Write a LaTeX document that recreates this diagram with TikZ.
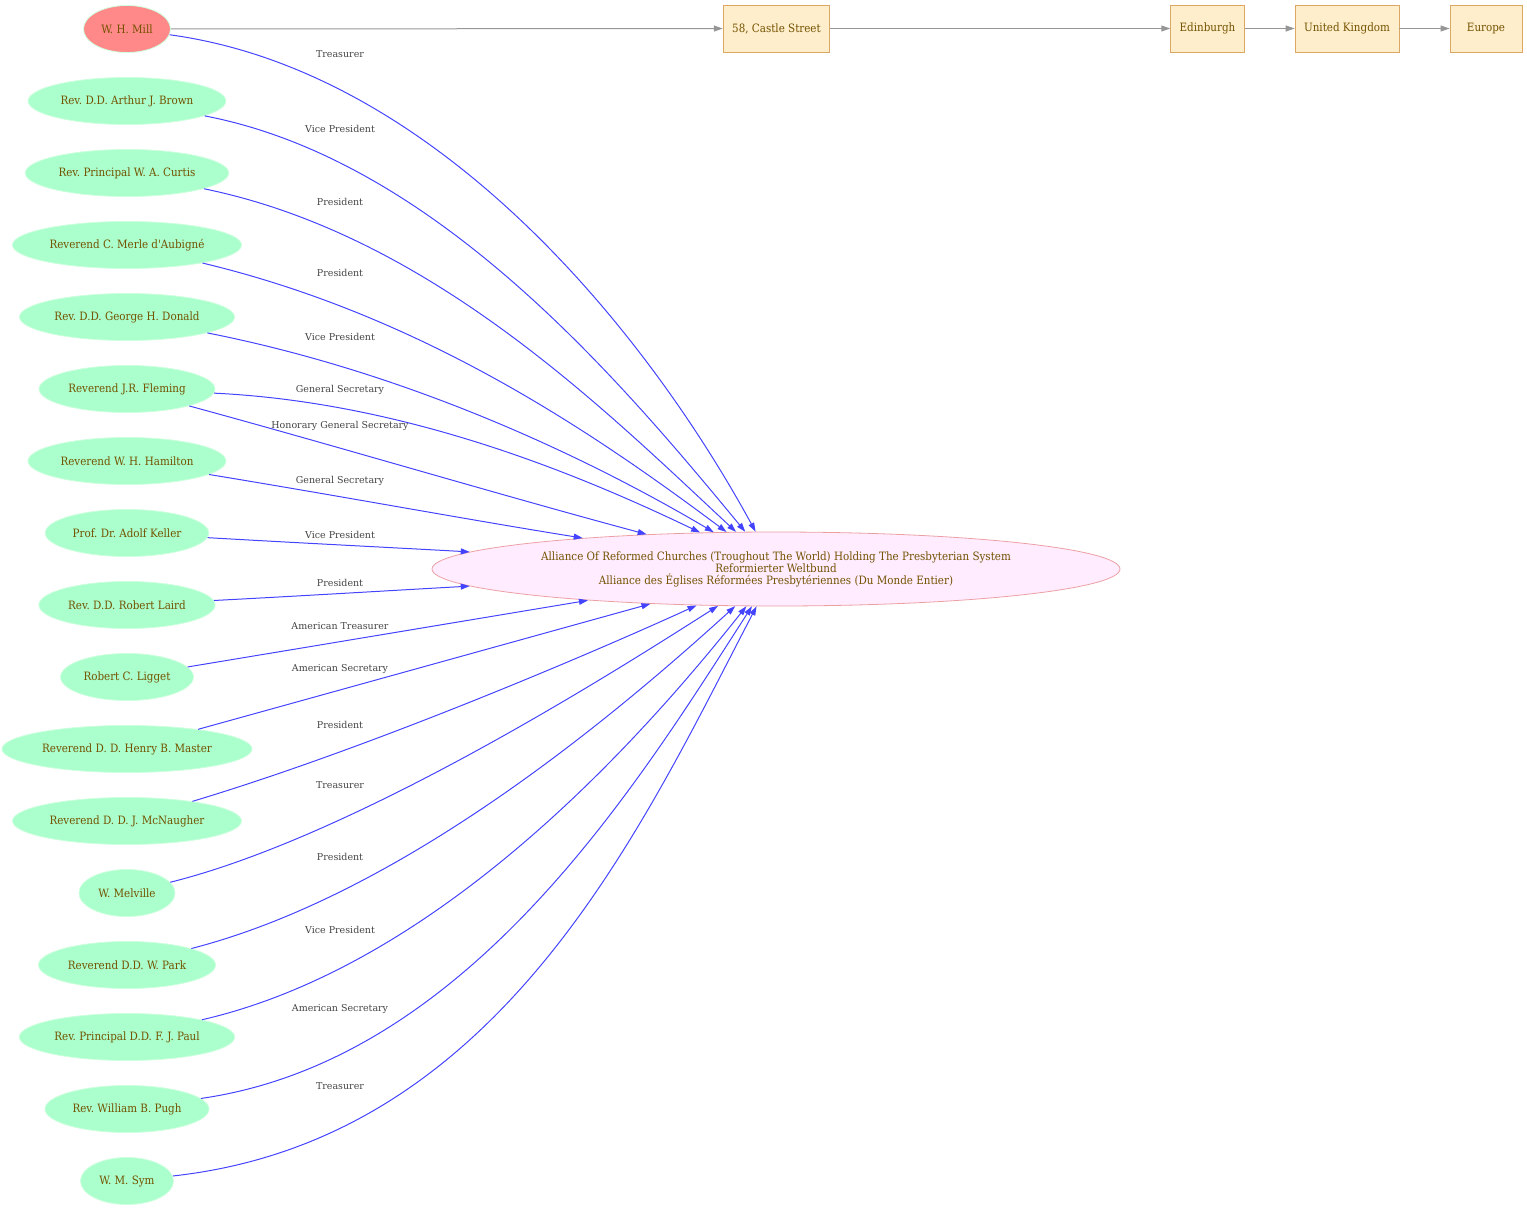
\documentclass[tikz,border=0pt]{standalone}
\usepackage{fontspec}
\setmainfont{DejaVu Serif}
\newfontfamily\condserif{DejaVu Serif Condensed}
\usetikzlibrary{arrows.meta, shapes.geometric}
\definecolor{personfill}{RGB}{170,255,204}
\definecolor{personline}{RGB}{205,255,222}
\definecolor{treasfill}{RGB}{255,136,136}
\definecolor{nametext}{RGB}{115,82,0}
\definecolor{orgfill}{RGB}{255,236,255}
\definecolor{orgline}{RGB}{236,160,164}
\definecolor{placefill}{RGB}{255,238,204}
\definecolor{placeline}{RGB}{218,168,100}
\definecolor{reledge}{RGB}{68,68,255}
\definecolor{locedge}{RGB}{150,150,150}
\definecolor{roletext}{RGB}{68,68,68}
\frenchspacing

\begin{document}
\begin{tikzpicture}[x=1pt, y=-1pt, >={Triangle[length=9pt,width=6pt]},
    person/.style={ellipse, fill=personfill, draw=personline, line width=0.8pt,
        text=nametext, font=\condserif\fontsize{11.5}{12}\selectfont,
        minimum height=47pt, inner xsep=3.5pt},
    treasurer/.style={person, fill=treasfill, minimum width=87pt},
    org/.style={ellipse, fill=orgfill, draw=orgline, line width=0.8pt,
        text=nametext, font=\condserif\fontsize{11.5}{12}\selectfont, align=center,
        minimum width=688pt, minimum height=74pt, inner sep=0pt},
    place/.style={rectangle, fill=placefill, draw=placeline, line width=0.8pt,
        text=nametext, font=\condserif\fontsize{11.5}{12}\selectfont,
        minimum height=47pt, minimum width=72pt, inner xsep=9pt},
    role/.style={text=roletext, font=\fontsize{9.5}{10}\selectfont, inner sep=0pt},
    rel/.style={->, draw=reledge, line width=1pt},
    loc/.style={->, draw=locedge, line width=1pt}]
    \useasboundingbox (0,0) rectangle (1527,1211);

    % People
    \node[treasurer] (mill) at (127,29) {W. H. Mill};
    \node[person] (brown) at (127,101) {Rev. D.D. Arthur J. Brown};
    \node[person] (curtis) at (127,173) {Rev. Principal W. A. Curtis};
    \node[person] (aubigne) at (127,245) {Reverend C. Merle d\textquotesingle Aubigné};
    \node[person] (donald) at (127,317) {Rev. D.D. George H. Donald};
    \node[person] (fleming) at (127,389) {Reverend J.R. Fleming};
    \node[person] (hamilton) at (127,461) {Reverend W. H. Hamilton};
    \node[person] (keller) at (127,533) {Prof. Dr. Adolf Keller};
    \node[person] (laird) at (127,605) {Rev. D.D. Robert Laird};
    \node[person] (ligget) at (127,677) {Robert C. Ligget};
    \node[person] (master) at (127,749) {Reverend D. D. Henry B. Master};
    \node[person] (mcnaugher) at (127,821) {Reverend D. D. J. McNaugher};
    \node[person, minimum width=96pt] (melville) at (127,893) {W. Melville};
    \node[person] (park) at (127,965) {Reverend D.D. W. Park};
    \node[person] (paul) at (127,1037) {Rev. Principal D.D. F. J. Paul};
    \node[person] (pugh) at (127,1109) {Rev. William B. Pugh};
    \node[person, minimum width=93pt] (sym) at (127,1181) {W. M. Sym};

    % Alliance
    \node[org] (org) at (776,569) {Alliance Of Reformed Churches (Troughout The World) Holding The Presbyterian System\\
        Reformierter Weltbund\\
        Alliance des Églises Réformées Presbytériennes (Du Monde Entier)};

    % Address chain
    \node[place] (castle) at (776.5,28.5) {58, Castle Street};
    \node[place] (edinburgh) at (1207.5,28.5) {Edinburgh};
    \node[place] (uk) at (1347,28.5) {United Kingdom};
    \node[place] (europe) at (1486,28.5) {Europe};
    \draw[loc] (mill) -- (castle);
    \draw[loc] (castle) -- (edinburgh);
    \draw[loc] (edinburgh) -- (uk);
    \draw[loc] (uk) -- (europe);

    % Offices held
    \draw[rel] (mill) .. controls (430,70) and (640,320) .. (org);
    \node[role] (r1) at (340,54) {Treasurer};
    \draw[rel] (brown) .. controls (435,160) and (620,380) .. (org);
    \node[role] (r2) at (340,129) {Vice President};
    \draw[rel] (curtis) .. controls (430,235) and (605,410) .. (org);
    \node[role] (r3) at (340,202) {President};
    \draw[rel] (aubigne) .. controls (420,315) and (590,430) .. (org);
    \node[role] (r4) at (340,273) {President};
    \draw[rel] (donald) .. controls (420,375) and (600,465) .. (org);
    \node[role] (r5) at (340,337) {Vice President};
    \draw[rel] (fleming) .. controls (400,402) and (570,470) .. (org);
    \node[role] (r6) at (340,390) {General Secretary};
    \draw[rel] (fleming) .. controls (340,447) and (500,495) .. (org);
    \node[role] (r7) at (340,426) {Honorary General Secretary};
    \draw[rel] (hamilton) .. controls (340,496) and (470,520) .. (org);
    \node[role] (r8) at (340,481) {General Secretary};
    \draw[rel] (keller) .. controls (300,543) and (400,548) .. (org);
    \node[role] (r9) at (340,535) {Vice President};
    \draw[rel] (laird) .. controls (300,596) and (400,590) .. (org);
    \node[role] (r10) at (340,583) {President};
    \draw[rel] (ligget) .. controls (320,645) and (470,620) .. (org);
    \node[role] (r11) at (340,626) {American Treasurer};
    \draw[rel] (master) .. controls (340,690) and (520,640) .. (org);
    \node[role] (r12) at (340,669) {American Secretary};
    \draw[rel] (mcnaugher) .. controls (380,745) and (610,645) .. (org);
    \node[role] (r13) at (340,725) {President};
    \draw[rel] (melville) .. controls (360,835) and (625,665) .. (org);
    \node[role] (r14) at (340,785) {Treasurer};
    \draw[rel] (park) .. controls (400,895) and (610,720) .. (org);
    \node[role] (r15) at (340,857) {President};
    \draw[rel] (paul) .. controls (440,965) and (640,740) .. (org);
    \node[role] (r16) at (340,930) {Vice President};
    \draw[rel] (pugh) .. controls (470,1060) and (640,780) .. (org);
    \node[role] (r17) at (340,1009) {American Secretary};
    \draw[rel] (sym) .. controls (500,1140) and (640,830) .. (org);
    \node[role] (r18) at (340,1086) {Treasurer};
\end{tikzpicture}
\end{document}
